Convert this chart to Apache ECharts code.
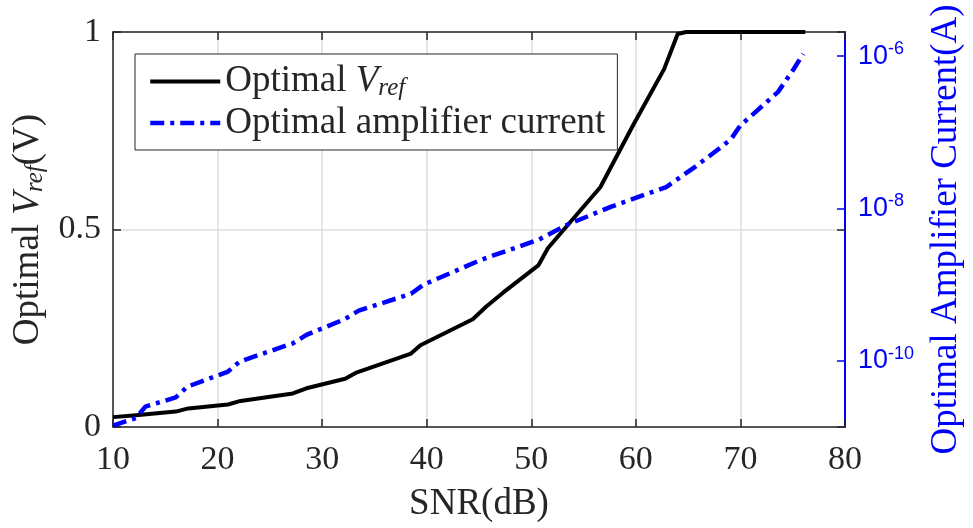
<!DOCTYPE html>
<html>
<head>
<meta charset="utf-8">
<script src="https://cdn.jsdelivr.net/npm/echarts@6/dist/echarts.min.js"></script>
<style>
  html, body { margin: 0; padding: 0; background: #fff; }
  #chart { width: 973px; height: 528px; }
</style>
</head>
<body>
<div id="chart"></div>
<script>
// SNR sweep (dB) and optimal reference voltage (V)
const snrVref = [10, 12.2, 16.0, 17.2, 21.0, 22.2, 27.2, 28.5, 32.2, 33.2, 38.5, 39.4, 44.4, 45.7, 47.3, 50.7, 51.6, 56.6, 57.9, 59.8, 62.7, 64.0, 64.8, 76.2];
const vref = [0.025, 0.030, 0.039, 0.047, 0.057, 0.066, 0.085, 0.098, 0.122, 0.137, 0.186, 0.207, 0.273, 0.305, 0.34, 0.41, 0.453, 0.607, 0.672, 0.767, 0.906, 0.995, 1.0, 1.0];

// SNR sweep (dB) and optimal amplifier current (A)
const snrCurrent = [10, 12.2, 13.1, 16.0, 17.1, 21.0, 22.1, 27.2, 28.5, 32.2, 33.5, 38.5, 39.7, 45.1, 46.3, 50.7, 53.5, 57.6, 62.9, 65.7, 68.2, 69.1, 70.0, 73.6, 75.1, 76.0];
const current = [1.41e-11, 1.78e-11, 2.51e-11, 3.31e-11, 4.57e-11, 7.24e-11, 9.77e-11, 1.70e-10, 2.19e-10, 3.55e-10, 4.57e-10, 7.59e-10, 1.00e-9, 2.09e-9, 2.40e-9, 3.89e-9, 6.17e-9, 1.05e-8, 1.91e-8, 3.55e-8, 6.46e-8, 8.13e-8, 1.23e-7, 3.39e-7, 6.76e-7, 1.07e-6];

// Axis ranges and tick values
const snrRange = [10, 80];
const vrefTicks = [0, 0.5, 1];
const currentRange = [1.355e-11, 2.07e-6];
const currentTicks = [1e-10, 1e-8, 1e-6];

const SERIF = '"Liberation Serif", "Times New Roman", serif';
const SANS = '"Liberation Sans", Arial, sans-serif';
const AX = '#262626';
const BLUE = '#0000ff';

const lg = Math.log10;
const vrefData = snrVref.map((x, i) => [x, vref[i]]);
const currentData = snrCurrent.map((x, i) => [x, lg(current[i])]);
const expTicks = currentTicks.map(v => Math.round(lg(v)));

const BLACK_LINE = { color: '#000000', width: 4, join: 'round' };
const BLUE_LINE = { color: BLUE, width: 4.5, type: [14, 6, 4, 6], cap: 'butt', join: 'round' };

const chart = echarts.init(document.getElementById('chart'), null, { renderer: 'canvas' });

function subRich(size, color) {
  return {
    n: { fontFamily: SERIF, fontSize: size, color: color, lineHeight: 38 },
    i: { fontFamily: SERIF, fontSize: size, fontStyle: 'italic', color: color, lineHeight: 38 },
    s: { fontFamily: SERIF, fontSize: Math.round(size * 0.68), fontStyle: 'italic', color: color, lineHeight: 24, padding: [14, 0, 0, 0] }
  };
}

chart.setOption({
  animation: false,
  backgroundColor: '#ffffff',
  grid: { left: 113, right: 114, top: 32, bottom: 90, containLabel: false },
  legend: {
    orient: 'vertical',
    left: 135,
    top: 54,
    padding: [8, 12, 8, 13],
    itemWidth: 70,
    itemHeight: 36,
    itemGap: 3,
    borderColor: AX,
    borderWidth: 1,
    backgroundColor: '#ffffff',
    data: [
      { name: 'Optimal Vref', itemStyle: { opacity: 0 }, lineStyle: BLACK_LINE },
      { name: 'Optimal amplifier current', itemStyle: { opacity: 0 }, lineStyle: BLUE_LINE }
    ],
    formatter: name => name === 'Optimal Vref'
      ? '{n|Optimal }{i|V}{s|ref}'
      : '{n|Optimal amplifier current}',
    textStyle: { fontFamily: SERIF, fontSize: 37, color: AX, lineHeight: 38, rich: subRich(37, AX) }
  },
  xAxis: [
    {
      type: 'value', position: 'bottom',
      min: snrRange[0], max: snrRange[1], interval: 10,
      name: 'SNR(dB)', nameLocation: 'middle', nameGap: 59,
      nameTextStyle: { fontFamily: SERIF, fontSize: 37, color: AX },
      axisLine: { show: true, onZero: false, lineStyle: { color: AX, width: 1.5 } },
      axisTick: { show: true, inside: true, length: 8, lineStyle: { color: AX, width: 1.5 } },
      axisLabel: { fontFamily: SERIF, fontSize: 34, color: AX, margin: 16 },
      splitLine: { show: true, lineStyle: { color: '#dedede', width: 1.5 } }
    },
    {
      type: 'value', position: 'top',
      min: snrRange[0], max: snrRange[1], interval: 10,
      axisLine: { show: true, onZero: false, lineStyle: { color: AX, width: 1.5 } },
      axisTick: { show: true, inside: true, length: 8, lineStyle: { color: AX, width: 1.5 } },
      axisLabel: { show: false },
      splitLine: { show: false }
    }
  ],
  yAxis: [
    {
      type: 'value', position: 'left',
      min: vrefTicks[0], max: vrefTicks[2], interval: 0.5,
      name: '{n|Optimal }{i|V}{s|ref}{n|(V)}',
      nameLocation: 'middle', nameRotate: 90, nameGap: 62,
      nameTextStyle: { fontFamily: SERIF, fontSize: 37, color: AX, rich: subRich(37, AX) },
      axisLine: { show: true, onZero: false, lineStyle: { color: AX, width: 1.5 } },
      axisTick: { show: true, inside: true, length: 8, lineStyle: { color: AX, width: 1.5 } },
      axisLabel: { fontFamily: SERIF, fontSize: 34, color: AX, margin: 12, formatter: v => String(v) },
      splitLine: { show: true, lineStyle: { color: '#dedede', width: 1.5 } }
    },
    {
      type: 'value', position: 'right',
      min: lg(currentRange[0]), max: lg(currentRange[1]),
      name: 'Optimal Amplifier Current(A)',
      nameLocation: 'middle', nameRotate: 90, nameGap: 83,
      nameTextStyle: { fontFamily: SERIF, fontSize: 37, color: BLUE },
      axisLine: { show: true, onZero: false, lineStyle: { color: BLUE, width: 2 } },
      axisTick: { show: true, inside: true, length: 8, customValues: expTicks, lineStyle: { color: BLUE, width: 1.5 } },
      axisLabel: {
        show: true, margin: 13, customValues: expTicks,
        formatter: v => '{b|10}{s|' + Math.round(v) + '}',
        rich: {
          b: { fontFamily: SANS, fontSize: 27, color: BLUE, lineHeight: 32 },
          s: { fontFamily: SANS, fontSize: 18, color: BLUE, lineHeight: 18, padding: [0, 0, 14, 0] }
        }
      },
      splitLine: { show: false }
    },
    {
      type: 'value', position: 'right',
      min: vrefTicks[0], max: vrefTicks[2], interval: 0.5,
      axisLine: { show: false },
      axisTick: { show: true, inside: true, length: 8, lineStyle: { color: AX, width: 1.5 } },
      axisLabel: { show: false },
      splitLine: { show: false }
    }
  ],
  series: [
    {
      name: 'Optimal Vref',
      type: 'line',
      xAxisIndex: 0, yAxisIndex: 0,
      data: vrefData,
      symbol: 'none',
      clip: false,
      lineStyle: BLACK_LINE,
      itemStyle: { color: '#000000' },
      z: 3
    },
    {
      name: 'Optimal amplifier current',
      type: 'line',
      xAxisIndex: 0, yAxisIndex: 1,
      data: currentData,
      symbol: 'none',
      clip: false,
      lineStyle: BLUE_LINE,
      itemStyle: { color: BLUE },
      z: 4
    }
  ]
});
</script>
</body>
</html>
